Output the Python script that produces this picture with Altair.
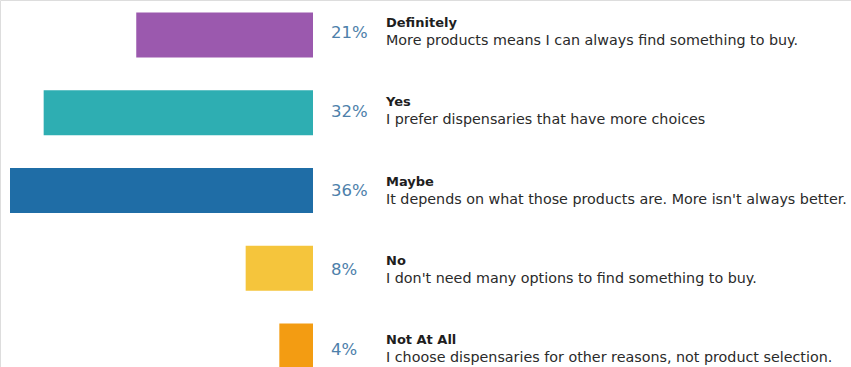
import altair as alt
import pandas as pd

answers = ["Definitely", "Yes", "Maybe", "No", "Not At All"]
descriptions = [
    "More products means I can always find something to buy.",
    "I prefer dispensaries that have more choices",
    "It depends on what those products are. More isn't always better.",
    "I don't need many options to find something to buy.",
    "I choose dispensaries for other reasons, not product selection.",
]
percents = [21, 32, 36, 8, 4]
colors = ["#9b59ae", "#2eaeb2", "#1f6da6", "#f5c53c", "#f39c12"]

df = pd.DataFrame({
    "answer": answers,
    "desc": descriptions,
    "pct": percents,
    "label": [f"{p}%" for p in percents],
})

FONT = "DejaVu Sans"

x_scale = alt.Scale(domain=[0, 36], range=[313, 10], nice=False, zero=True)
y_bar = alt.Scale(domain=answers, range=[0, 381], paddingInner=0.42, paddingOuter=0.16)
y_txt = alt.Scale(domain=answers, range=[-3.6, 392.9], paddingInner=0, paddingOuter=0)

bars = alt.Chart(df).mark_bar(cornerRadius=0).encode(
    y=alt.Y("answer:N", scale=y_bar, axis=None, sort=answers),
    x=alt.X("pct:Q", scale=x_scale, axis=None),
    color=alt.Color("answer:N", scale=alt.Scale(domain=answers, range=colors), legend=None),
)

tbase = alt.Chart(df).encode(
    y=alt.Y("answer:N", scale=y_txt, axis=None, sort=answers),
)

pct_text = tbase.mark_text(
    align="left", baseline="middle", dx=18, dy=-3.5, font=FONT, fontSize=16.5, color="#4d80aa"
).encode(
    x=alt.datum(0, scale=x_scale),
    text="label:N",
)

title_text = tbase.mark_text(
    align="left", baseline="alphabetic", dx=73, dy=-9, font=FONT, fontSize=13,
    fontWeight="bold", color="#1e1e1e"
).encode(
    x=alt.datum(0),
    text="answer:N",
)

desc_text = tbase.mark_text(
    align="left", baseline="alphabetic", dx=73, dy=9, font=FONT, fontSize=14.3,
    color="#2a2a2a"
).encode(
    x=alt.datum(0),
    text="desc:N",
)

text_layer = alt.layer(pct_text, title_text, desc_text)

chart = alt.layer(bars, text_layer).resolve_scale(y="independent").properties(
    width=851, height=367,
    autosize=alt.AutoSizeParams(type="none"),
    padding=0,
).configure_view(stroke=None).configure(background="white")

chart.save("out.html", embed_options={"renderer": "svg", "actions": False})
